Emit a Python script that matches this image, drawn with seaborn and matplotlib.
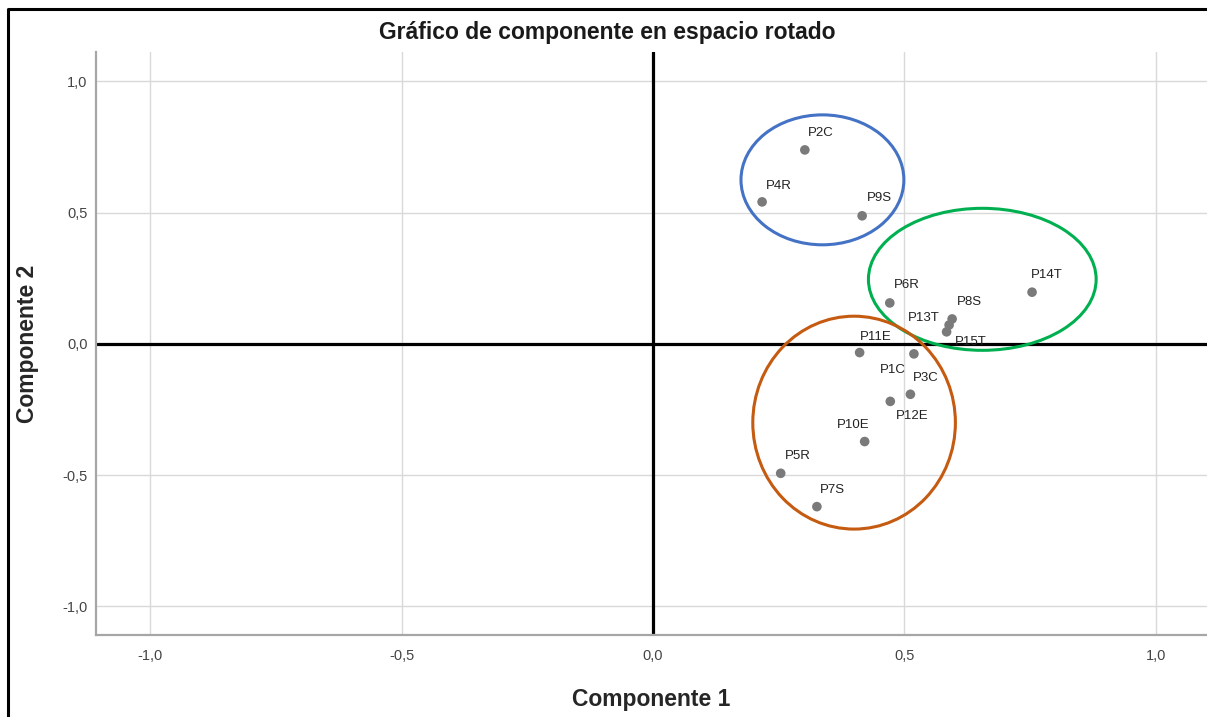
import matplotlib
matplotlib.use("Agg")
import matplotlib.pyplot as plt
import seaborn as sns
import pandas as pd
from matplotlib.patches import Ellipse
from matplotlib.lines import Line2D

# rotated component loadings
LABELS = ["P2C", "P4R", "P9S", "P14T", "P6R", "P8S", "P13T", "P15T",
          "P11E", "P1C", "P3C", "P12E", "P10E", "P5R", "P7S"]
COMP1 = [0.302, 0.217, 0.416, 0.754, 0.471, 0.595, 0.589, 0.584,
         0.411, 0.519, 0.512, 0.472, 0.421, 0.254, 0.326]
COMP2 = [0.739, 0.541, 0.488, 0.197, 0.156, 0.095, 0.072, 0.046,
         -0.033, -0.038, -0.192, -0.219, -0.372, -0.493, -0.620]
# label offsets in pixels (most sit up-right of the point)
LABEL_DX = [16, 17, 17, 15, 17, 17, -25, 24, 16, -21, 15, 22, -11, 17, 16]
LABEL_DY = [17, 16, 18, 17, 18, 17, 7, -10, 16, -16, 16, -15, 17, 17, 17]

TICKS = [-1.0, -0.5, 0.0, 0.5, 1.0]
TICK_LABELS = ["-1,0", "-0,5", "0,0", "0,5", "1,0"]

# hand-drawn groupings: center x, center y, width, height, colour
GROUPS = [
    (0.337, 0.625, 0.324, 0.495, "#4472C4"),
    (0.655, 0.246, 0.453, 0.541, "#00B050"),
    (0.400, -0.300, 0.403, 0.811, "#C55A11"),
]

df = pd.DataFrame({"label": LABELS, "c1": COMP1, "c2": COMP2})

sns.set_style("white")
plt.rcParams["font.family"] = ["Liberation Sans", "DejaVu Sans"]

fig = plt.figure(figsize=(12.07, 7.17), dpi=100)
ax = fig.add_axes([96 / 1207, 82 / 717, 1 - 96 / 1207, 583 / 717])

ax.set_xlim(-1.108, 1.102)
ax.set_ylim(-1.109, 1.112)
ax.set_xticks(TICKS)
ax.set_xticklabels(TICK_LABELS)
ax.set_yticks(TICKS)
ax.set_yticklabels(TICK_LABELS)
ax.grid(True, color="#d9d9d9", linewidth=1.0)
ax.tick_params(axis="y", length=0, labelsize=10.5, colors="#444444", pad=6)
ax.tick_params(axis="x", length=0, labelsize=10.5, colors="#444444", pad=10)
for s in ["top", "right"]:
    ax.spines[s].set_visible(False)
for s in ["left", "bottom"]:
    ax.spines[s].set_color("#a6a6a6")
    ax.spines[s].set_linewidth(1.6)

ax.axhline(0, color="black", linewidth=2.3, zorder=2)
ax.axvline(0, color="black", linewidth=2.3, zorder=2)

sns.scatterplot(data=df, x="c1", y="c2", ax=ax, color="#7a7a7a",
                s=48, edgecolor="none", zorder=3)

for lab, x, y, dx, dy in zip(LABELS, COMP1, COMP2, LABEL_DX, LABEL_DY):
    ax.annotate(lab, (x, y), xytext=(dx, dy), textcoords="offset pixels",
                ha="center", va="center", fontsize=9.5, color="#222222", zorder=4)

for cx, cy, w, h, col in GROUPS:
    ax.add_patch(Ellipse((cx, cy), w, h, fill=False, edgecolor=col,
                         linewidth=2.2, zorder=5))

ax.set_xlabel("Componente 1", fontsize=16.5, fontweight="bold", labelpad=18)
ax.set_ylabel("Componente 2", fontsize=16.5, fontweight="bold", labelpad=17)
fig.text(607 / 1207, 1 - 33 / 717, "Gráfico de componente en espacio rotado",
         ha="center", va="center", fontsize=16.5, fontweight="bold",
         color="#1a1a1a")

# screenshot frame (left and top edges)
fig.add_artist(Line2D([8 / 1207, 8 / 1207, 1.0], [0.0, 1 - 9 / 717, 1 - 9 / 717],
                      transform=fig.transFigure, color="black", linewidth=2.2))

fig.savefig("out.png", dpi=100)
